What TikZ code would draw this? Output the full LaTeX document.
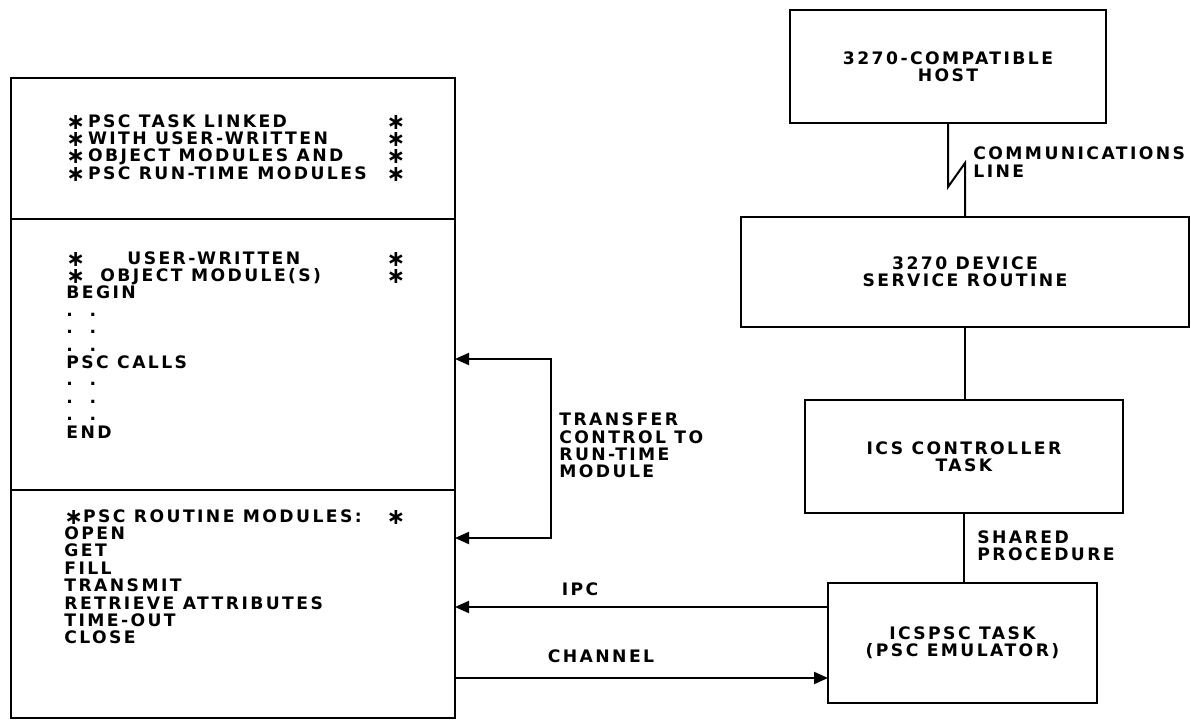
\documentclass[tikz,border=0pt]{standalone}
\usepackage{fontspec}
\setmainfont{DejaVu Sans}[LetterSpace=14]
\usepackage{graphicx}
\usepackage{tikz}
\usetikzlibrary{arrows.meta,positioning}
\newcommand{\lettering}{\fontsize{8.6}{8.7}\selectfont\bfseries}
\newcommand{\sstar}{\raisebox{-0.11em}{\scalebox{1.3}{∗}}}
\newcommand{\starline}[2][167.5pt]{\makebox[#1][l]{#2\hfill\sstar}}

\begin{document}
\begin{tikzpicture}[
  x=0.5pt,y=-0.5pt,
  node distance=0pt,
  box/.style={
    draw,line width=1.4pt,outer sep=0pt,inner sep=0pt,
    align=center,font=\lettering
  },
  sect/.style={box,minimum width=222pt},
  txt/.style={inner sep=0pt,align=left,font=\lettering},
  lst/.style={txt,anchor=north west},
  link/.style={line width=1pt},
  arr/.style={-{Triangle[length=7pt,width=6pt]},line width=1pt},
  both/.style={{Triangle[length=7pt,width=6pt]}-{Triangle[length=7pt,width=6pt]},line width=1pt}
]
  \useasboundingbox (0,0) rectangle (1191,722);

  \node[sect,minimum height=70.5pt,anchor=north west] (linked) at (11,78) {};
  \node[sect,minimum height=135.5pt,below=of linked] (user) {};
  \node[sect,minimum height=114pt,below=of user] (runtime) {};

  \node[lst] (linktxt) at (66,114)
    {\starline[169.5pt]{\sstar\,PSC TASK LINKED}\\
     \starline[169.5pt]{\sstar\,WITH USER-WRITTEN}\\
     \starline[169.5pt]{\sstar\,OBJECT MODULES AND}\\
     \starline[169.5pt]{\sstar\,PSC RUN-TIME MODULES}};
  \node[lst] (usertxt) at (66,251)
    {\starline[169.5pt]{\makebox[30.5pt][l]{\sstar}USER-WRITTEN}\\
     \starline[169.5pt]{\makebox[17pt][l]{\sstar}OBJECT MODULE(S)}\\
     BEGIN\\ .\ \ .\\ .\ \ .\\ .\ \ .\\
     PSC CALLS\\ .\ \ .\\ .\ \ .\\ .\ \ .\\
     END};
  \node[lst] (rttxt) at (64,509)
    {\starline[170.5pt]{\sstar PSC ROUTINE MODULES:}\\
     OPEN\\ GET\\ FILL\\ TRANSMIT\\ RETRIEVE ATTRIBUTES\\ TIME-OUT\\ CLOSE};

  \node[box,minimum width=158pt,minimum height=56.5pt] (host) at (948,66.5)
    {3270-COMPATIBLE\\HOST};
  \node[box,minimum width=224pt,minimum height=55pt] (device) at (965,272)
    {3270 DEVICE\\SERVICE ROUTINE};
  \node[box,minimum width=159pt,minimum height=56.5pt] (ctrl) at (964,456.5)
    {ICS CONTROLLER\\TASK};
  \node[box,minimum width=134.5pt,minimum height=60pt] (emu) at (962.5,643)
    {ICSPSC TASK\\(PSC EMULATOR)};

  \draw[link] (host.south) -- ++(0,64) -- ++(17,-24) -- (device.north);
  \draw[link] (device.south) -- (device.south |- ctrl.north);
  \draw[link] (ctrl.south) -- (ctrl.south |- emu.north);

  \draw[both] ([yshift=-2.25pt]user.east) -- ++(96,0) |- ([yshift=33pt]runtime.east);
  \coordinate (ipc) at ([yshift=18pt]emu.west);
  \coordinate (chan) at ([yshift=-17.5pt]emu.west);
  \draw[arr] (ipc) -- (ipc -| runtime.east);
  \draw[arr] (chan -| runtime.east) -- (chan);

  \node[txt,anchor=west] (xferlbl) at (559,445.5) {TRANSFER\\CONTROL TO\\RUN-TIME\\MODULE};
  \node[txt] (ipclbl) at (580,589) {IPC};
  \node[txt] (chanlbl) at (601,656) {CHANNEL};
  \node[txt,anchor=west] (commlbl) at (973,162) {COMMUNICATIONS\\LINE};
  \node[txt,anchor=west] (shrlbl) at (977,546) {SHARED\\PROCEDURE};
\end{tikzpicture}
\end{document}
